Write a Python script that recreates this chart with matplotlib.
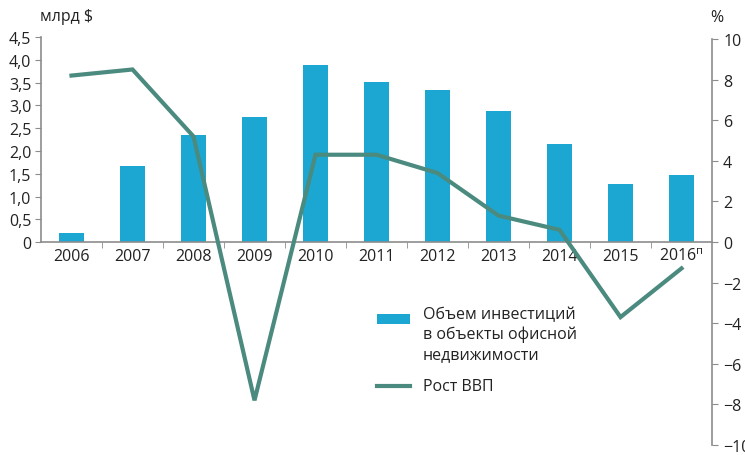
import matplotlib
matplotlib.use("Agg")
import matplotlib.pyplot as plt
from matplotlib.patches import Rectangle
from matplotlib.lines import Line2D
import numpy as np

plt.rcParams['font.family'] = ['Open Sans', 'DejaVu Sans']
plt.rcParams['mathtext.fontset'] = 'custom'
plt.rcParams['mathtext.rm'] = 'Open Sans'

years = ['2006', '2007', '2008', '2009', '2010', '2011', '2012', '2013', '2014', '2015', '2016$^{\\mathrm{п}}$']
investment = [0.2, 1.67, 2.35, 2.74, 3.88, 3.51, 3.33, 2.87, 2.15, 1.27, 1.47]
gdp_growth = [8.2, 8.5, 5.2, -7.8, 4.3, 4.3, 3.4, 1.3, 0.6, -3.7, -1.3]
left_ticks = [0, 0.5, 1.0, 1.5, 2.0, 2.5, 3.0, 3.5, 4.0, 4.5]
left_ticklabels = ['0', '0,5', '1,0', '1,5', '2,0', '2,5', '3,0', '3,5', '4,0', '4,5']
right_ticks = [-10, -8, -6, -4, -2, 0, 2, 4, 6, 8, 10]

bar_color = '#1CA7D2'
line_color = '#4B8A7F'
axis_color = '#8C8C8C'
text_color = '#222222'
fs = 11.5

W, H = 745, 456
fig = plt.figure(figsize=(W / 100, H / 100), dpi=100)
x0, x1 = 41, 712
y_top, y_bot = 38, 446
ax = fig.add_axes([x0 / W, 1 - y_bot / H, (x1 - x0) / W, (y_bot - y_top) / H])
ax.patch.set_alpha(0)

x = np.arange(len(years))
ax.bar(x, investment, width=0.4, color=bar_color, zorder=2)
ax.set_xlim(-0.5, len(years) - 0.5)
ax.set_ylim(-4.45, 4.5)

for s in ['top', 'right']:
    ax.spines[s].set_visible(False)
ax.spines['left'].set_bounds(0, 4.5)
ax.spines['left'].set_color(axis_color)
ax.spines['left'].set_linewidth(1.2)
ax.spines['bottom'].set_position(('data', 0))
ax.spines['bottom'].set_color(axis_color)
ax.spines['bottom'].set_linewidth(1.2)
ax.set_yticks(left_ticks)
ax.set_yticklabels(left_ticklabels)
ax.tick_params(axis='y', direction='out', length=4, color=axis_color, labelsize=fs,
               labelcolor=text_color, pad=3)
ax.set_xticks(x)
ax.set_xticklabels(years)
ax.tick_params(axis='x', which='major', length=0, labelsize=fs, labelcolor=text_color, pad=4)
ax.set_xticks(np.arange(0.5, len(years) - 0.5, 1), minor=True)
ax.tick_params(axis='x', which='minor', direction='out', length=4, color=axis_color)

ax2 = ax.twinx()
ax2.set_ylim(-10, 10.1)
ax2.plot(x, gdp_growth, color=line_color, linewidth=3, solid_joinstyle='miter', zorder=3)
for s in ['top', 'left', 'bottom']:
    ax2.spines[s].set_visible(False)
ax2.spines['right'].set_bounds(-10, 10)
ax2.spines['right'].set_color(axis_color)
ax2.spines['right'].set_linewidth(1.2)
ax2.set_yticks(right_ticks)
ax2.tick_params(axis='y', direction='out', length=4, color=axis_color, labelsize=fs,
                labelcolor=text_color, pad=4)

fig.text(40 / W, 1 - 17 / H, 'млрд $', fontsize=fs, color=text_color, va='center', ha='left')
fig.text(717 / W, 1 - 18 / H, '%', fontsize=fs, color=text_color, va='center', ha='center')

# legend
fig.patches.append(Rectangle((377 / W, 1 - 325 / H), 33 / W, 10 / H, transform=fig.transFigure,
                             facecolor=bar_color, edgecolor='none'))
fig.lines.append(Line2D([377 / W, 410 / W], [1 - 387 / H, 1 - 387 / H], transform=fig.transFigure,
                        color=line_color, linewidth=3))
fig.text(423 / W, 1 - 307 / H, 'Объем инвестиций\nв объекты офисной\nнедвижимости', fontsize=fs,
         color=text_color, va='top', ha='left', linespacing=1.3)
fig.text(423 / W, 1 - 387 / H, 'Рост ВВП', fontsize=fs, color=text_color, va='center', ha='left')

fig.savefig('out.png', dpi=100)
